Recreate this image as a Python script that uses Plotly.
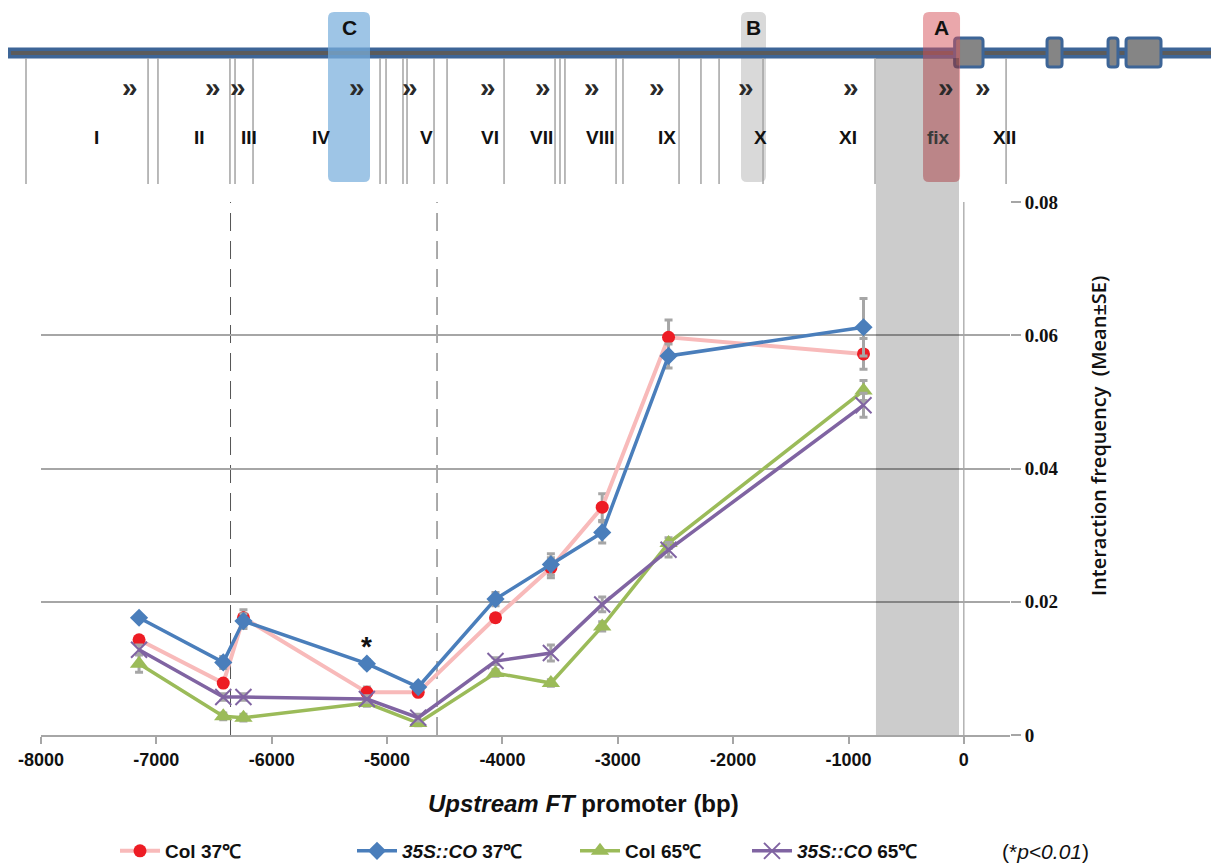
import plotly.graph_objects as go

# ---- interaction frequencies along the FT promoter ----
positions_bp = [-7150, -6420, -6245, -5175, -4730, -4060, -3580, -3135, -2560, -870]

col_37 = [0.0143, 0.0078, 0.0176, 0.0064, 0.0064, 0.0176, 0.0251, 0.0342, 0.0597, 0.0572]
col_37_se = [0.0005, 0.0005, 0.0012, 0.0008, 0.0005, 0.0005, 0.0015, 0.0020, 0.0026, 0.0023]

co_37 = [0.0176, 0.0109, 0.0171, 0.0107, 0.0072, 0.0204, 0.0256, 0.0304, 0.0569, 0.0612]
co_37_se = [0.0005, 0.0009, 0.0011, 0.0006, 0.0005, 0.0010, 0.0016, 0.0016, 0.0018, 0.0043]

col_65 = [0.0107, 0.0028, 0.0026, 0.0048, 0.0018, 0.0093, 0.0078, 0.0163, 0.0288, 0.0517]
col_65_se = [0.0013, 0.0005, 0.0005, 0.0005, 0.0004, 0.0005, 0.0005, 0.0007, 0.0008, 0.0015]

co_65 = [0.0128, 0.0057, 0.0057, 0.0054, 0.0026, 0.0111, 0.0123, 0.0196, 0.0278, 0.0495]
co_65_se = [0.0007, 0.0005, 0.0005, 0.0005, 0.0005, 0.0005, 0.0012, 0.0011, 0.0011, 0.0018]

series_names = ["<b>Col 37℃</b>", "<b><i>35S::CO</i> 37℃</b>", "<b>Col 65℃</b>", "<b><i>35S::CO</i> 65℃</b>"]

x_tick_values = [-8000, -7000, -6000, -5000, -4000, -3000, -2000, -1000, 0]
x_tick_labels = ["-8000", "-7000", "-6000", "-5000", "-4000", "-3000", "-2000", "-1000", "0"]

# ---- promoter map (bp) ----
fragment_borders_bp = [-8130, -7072, -6986, -6362, -6318, -6162, -5061, -5009, -4862,
                       -4827, -4593, -4480, -3986, -3544, -3501, -3458, -3015, -2955,
                       -2469, -2279, -2122, -1741, -770, 366]
primer_bp = [-7228, -6509, -6292, -5261, -4801, -4125, -3648, -3223, -2660, -1888,
             -978, -155, 166]
fragment_names = ["I", "II", "III", "IV", "V", "VI", "VII", "VIII", "IX", "X", "XI", "fix", "XII"]
fragment_label_bp = [-7515, -6622, -6197, -5573, -4654, -4108, -3657, -3154, -2573,
                     -1767, -1004, -224, 348]
exons_bp = [(-80, 166), (721, 851), (1250, 1336), (1406, 1709)]
gene_span_bp = (-8286, 2160)
region_names = ["C", "B", "A"]
region_spans_bp = [(-5512, -5148), (-1932, -1715), (-354, -33)]
fixed_anchor_bp = (-762, -42)
boundary_lines_bp = [-6357, -4567]

X_RANGE = [-8000, 400]
Y_RANGE = [0, 0.08]

# layout geometry (pixels)
FIG_W, FIG_H = 1211, 867
M_L, M_R, M_T, M_B = 41, 201, 202, 132
PLOT_W = FIG_W - M_L - M_R
PLOT_H = FIG_H - M_T - M_B
LEGEND_ROW = 851

SANS = "Liberation Sans, Arial, sans-serif"


def fx(bp):
    """bp position -> paper x"""
    return (bp - X_RANGE[0]) / (X_RANGE[1] - X_RANGE[0])


def fpx(xpx):
    """pixel column -> paper x"""
    return (xpx - M_L) / PLOT_W


def fy(ypx):
    """pixel row -> paper y"""
    return (M_T + PLOT_H - ypx) / PLOT_H


def rounded_rect(x0, x1, y0, y1, r=6):
    rx, ry = r / PLOT_W, r / PLOT_H
    return (f"M{x0 + rx},{y1} L{x1 - rx},{y1} Q{x1},{y1} {x1},{y1 - ry} "
            f"L{x1},{y0 + ry} Q{x1},{y0} {x1 - rx},{y0} L{x0 + rx},{y0} "
            f"Q{x0},{y0} {x0},{y0 + ry} L{x0},{y1 - ry} Q{x0},{y1} {x0 + rx},{y1} Z")


def label(x, y, text, font, **kw):
    base = dict(xref="paper", yref="paper", x=x, y=y, text=text, showarrow=False,
                xanchor="center", yanchor="middle", font=font)
    base.update(kw)
    return base


fig = go.Figure()

err_style = dict(type="data", color="#a6a6a6", thickness=3, width=4)

specs = [
    (col_37, col_37_se, dict(color="#f8baba", width=4),
     dict(symbol="circle", size=13, color="#ed1c24"), "legend"),
    (co_37, co_37_se, dict(color="#4a7ebb", width=3.5),
     dict(symbol="diamond", size=14, color="#4a7ebb"), "legend2"),
    (col_65, col_65_se, dict(color="#9bbb59", width=3.5),
     dict(symbol="triangle-up", size=16, color="#9bbb59"), "legend3"),
    (co_65, co_65_se, dict(color="#8064a2", width=3.5),
     dict(symbol="x-thin-open", size=16, color="#8064a2", line=dict(width=2, color="#8064a2")), "legend4"),
]

for name, (vals, se, line, marker, leg) in zip(series_names, specs):
    fig.add_trace(go.Scatter(
        x=positions_bp, y=vals, name=name, mode="lines+markers",
        line=line, marker=marker, error_y=dict(array=se, **err_style),
        legend=leg, showlegend=True,
    ))

shapes = []

c_span, b_span, a_span = region_spans_bp
# region B sits behind the gene bar
shapes.append(dict(type="path", xref="paper", yref="paper", layer="above",
                   path=rounded_rect(fx(b_span[0]), fx(b_span[1]), fy(182), fy(12)),
                   fillcolor="#d9d9d9", line=dict(width=0)))

# gene bar
shapes.append(dict(type="line", xref="paper", yref="paper", layer="above",
                   x0=fx(gene_span_bp[0]), x1=fx(gene_span_bp[1]), y0=fy(53), y1=fy(53),
                   line=dict(color="#3d6597", width=11)))
shapes.append(dict(type="line", xref="paper", yref="paper", layer="above",
                   x0=fx(gene_span_bp[0]) + 0.003, x1=fx(gene_span_bp[1]), y0=fy(53), y1=fy(53),
                   line=dict(color="#5b5b5b", width=4)))

# exons
for e0, e1 in exons_bp:
    shapes.append(dict(type="path", xref="paper", yref="paper", layer="above",
                       path=rounded_rect(fx(e0), fx(e1), fy(67), fy(38), r=3),
                       fillcolor="#858585", line=dict(color="#3d6597", width=3)))

# regions C and A lie over the gene bar
shapes.append(dict(type="path", xref="paper", yref="paper", layer="above",
                   path=rounded_rect(fx(c_span[0]), fx(c_span[1]), fy(182), fy(12)),
                   fillcolor="rgba(120,175,220,0.72)", line=dict(width=0)))
shapes.append(dict(type="path", xref="paper", yref="paper", layer="above",
                   path=rounded_rect(fx(a_span[0]), fx(a_span[1]), fy(182), fy(12)),
                   fillcolor="rgba(214,80,88,0.5)", line=dict(width=0)))

# grey band from the gene bar down to the axis
shapes.append(dict(type="rect", xref="paper", yref="paper", layer="above",
                   x0=fx(fixed_anchor_bp[0]), x1=fx(fixed_anchor_bp[1]), y0=0, y1=fy(58),
                   fillcolor="rgba(0,0,0,0.2)", line=dict(width=0)))

# fragment borders
for b in fragment_borders_bp:
    shapes.append(dict(type="line", xref="paper", yref="paper", layer="above",
                       x0=fx(b), x1=fx(b), y0=fy(58), y1=fy(184),
                       line=dict(color="#a3a3a3", width=1.5)))

# dashed boundaries in the plot
for b in boundary_lines_bp:
    shapes.append(dict(type="line", xref="x", yref="paper", layer="below",
                       x0=b, x1=b, y0=0, y1=1,
                       line=dict(color="#555555", width=1, dash="18px,10px")))

# start-site marker at 0
shapes.append(dict(type="line", xref="x", yref="paper", layer="below",
                   x0=0, x1=0, y0=0, y1=1, line=dict(color="#8c8c8c", width=1)))

annotations = []
for name, (r0, r1) in zip(region_names, region_spans_bp):
    annotations.append(label(fx((r0 + r1) / 2), fy(27), f"<b>{name}</b>",
                             dict(family=SANS, size=21, color="#111111")))
for p in primer_bp:
    annotations.append(label(fx(p), fy(88), "<b>»</b>",
                             dict(family=SANS, size=28, color="#2a2a2a")))
for name, p in zip(fragment_names, fragment_label_bp):
    annotations.append(label(fx(p), fy(138), f"<b>{name}</b>",
                             dict(family=SANS, size=19,
                                  color="#3a3a3a" if name == "fix" else "#111111")))

# significance mark
annotations.append(dict(xref="x", yref="y", x=positions_bp[3], y=co_37[3], yshift=17,
                        text="<b>*</b>", showarrow=False, xanchor="center", yanchor="middle",
                        font=dict(family=SANS, size=28, color="#111111")))

# axis titles and note
annotations.append(label(fx(-3300), fy(803), "<b><i>Upstream FT</i> promoter (bp)</b>",
                         dict(family=SANS, size=24, color="#111111")))
annotations.append(label(fpx(1098), fy(436), "Interaction frequency  (Mean±SE)",
                         dict(family="Open Sans", size=20, color="#111111", weight=600),
                         textangle=-90))
annotations.append(label(fpx(1000), fy(LEGEND_ROW), "(*<i>p<0.01</i>)",
                         dict(family=SANS, size=21, color="#111111"), xanchor="left"))

legend_font = dict(family=SANS, size=19, color="#111111")
legend_common = dict(orientation="h", yanchor="middle", xanchor="left",
                     yref="container", y=(FIG_H - LEGEND_ROW) / FIG_H,
                     font=legend_font, bgcolor="rgba(0,0,0,0)", borderwidth=0,
                     itemwidth=40)

fig.update_layout(
    width=FIG_W, height=FIG_H, autosize=False, showlegend=True,
    margin=dict(l=M_L, r=M_R, t=M_T, b=M_B),
    paper_bgcolor="white", plot_bgcolor="white",
    shapes=shapes, annotations=annotations,
    legend=dict(x=fpx(115), **legend_common),
    legend2=dict(x=fpx(352), **legend_common),
    legend3=dict(x=fpx(575), **legend_common),
    legend4=dict(x=fpx(747), **legend_common),
    xaxis=dict(range=X_RANGE, tickvals=x_tick_values, ticktext=x_tick_labels,
               ticks="outside", ticklen=7, tickcolor="#a6a6a6", tickwidth=1.5,
               showgrid=False, zeroline=False, showline=True,
               linecolor="#a6a6a6", linewidth=2,
               tickfont=dict(family=SANS, size=18, color="#111111", weight="bold")),
    yaxis=dict(range=Y_RANGE, side="right", dtick=0.02, tick0=0,
               ticks="outside", ticklen=10, tickcolor="#a6a6a6", tickwidth=1.5,
               showgrid=True, gridcolor="#a6a6a6", gridwidth=1.5,
               zeroline=False, showline=False,
               tickfont=dict(family="Liberation Serif", size=19, color="#111111", weight="bold")),
)

fig.write_html("out.html")
